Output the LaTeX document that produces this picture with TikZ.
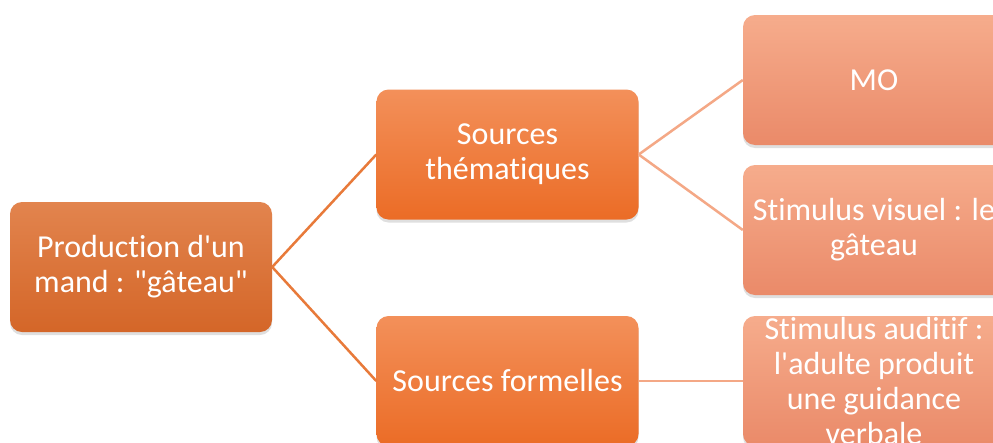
\documentclass[tikz,border=0pt]{standalone}
\usepackage{fontspec}
\setmainfont{Carlito}[Ligatures={TeXOff, NoCommon}]
\usetikzlibrary{shadows}
\definecolor{roottop}{RGB}{226, 132, 78}
\definecolor{rootbot}{RGB}{212, 102, 40}
\definecolor{midtop}{RGB}{243, 144, 90}
\definecolor{midbot}{RGB}{235, 108, 38}
\definecolor{leaftop}{RGB}{246, 172, 140}
\definecolor{leafbot}{RGB}{234, 138, 105}
\definecolor{linedark}{RGB}{232, 122, 58}
\definecolor{linelight}{RGB}{244, 168, 134}

\tikzset{
    box/.style={rounded corners=12pt, minimum width=262pt, minimum height=130pt,
        text=white, align=center, inner sep=0pt,
        font=\fontsize{32}{35}\selectfont,
        drop shadow={opacity=0.25, shadow xshift=0pt, shadow yshift=-3pt}},
    rootbox/.style={box, top color=roottop, bottom color=rootbot},
    midbox/.style={box, top color=midtop, bottom color=midbot},
    leafbox/.style={box, top color=leaftop, bottom color=leafbot},
}

\begin{document}
\begin{tikzpicture}[x=1pt, y=-1pt]
            \useasboundingbox (0,0) rectangle (993,442);
            \clip (0,0) rectangle (993,442);
            \fill[white] (0,0) rectangle (993,442);

            % Root box
            \node[rootbox] (prod) at (141,267) {Production d'un\\mand : "gâteau"};

            % Sources
            \node[midbox] (them) at (507.5,154.5) {Sources\\thématiques};
            \node[midbox] (form) at (507.5,381) {Sources formelles};

            % Leaves
            \node[leafbox] (mo) at (874,80) {MO};
            \node[leafbox] (visu) at (874,230) {Stimulus visuel : le\\gâteau};
            \node[leafbox] (audi) at (874,381) {Stimulus auditif :\\l'adulte produit\\une guidance\\verbale};

            % Connectors
            \draw[linedark, line width=2.5pt] (prod.east) -- (them.west);
            \draw[linedark, line width=2.5pt] (prod.east) -- (form.west);
            \draw[linelight, line width=2.5pt] (them.east) -- (mo.west);
            \draw[linelight, line width=2.5pt] (them.east) -- (visu.west);
            \draw[linelight, line width=2.5pt] (form.east) -- (audi.west);
        \end{tikzpicture}
\end{document}
